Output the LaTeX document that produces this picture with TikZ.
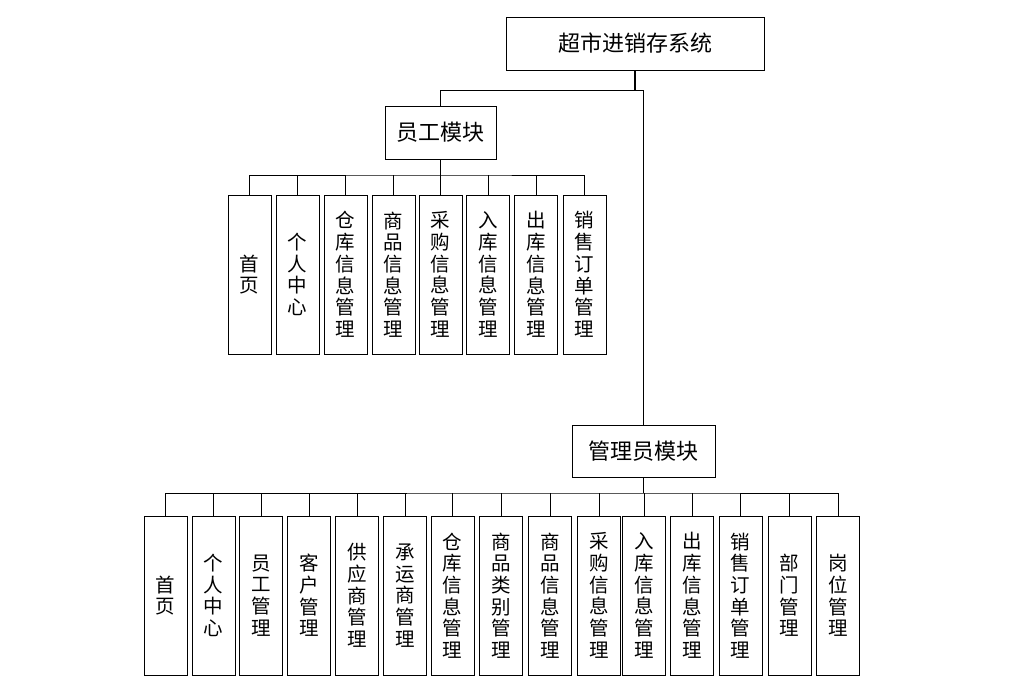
\documentclass[tikz,border=0pt]{standalone}
\usepackage{fontspec}
\newfontfamily\cjk{Noto Sans CJK SC}
\begin{document}
\begin{tikzpicture}[x=1pt,y=-1pt,
  box/.style={draw=black,line width=1pt,inner sep=0pt,font=\cjk\fontsize{22}{25}\selectfont},
  leaf/.style={draw=black,line width=1pt,inner sep=0pt,minimum width=43pt,minimum height=159pt,align=center,font=\cjk\fontsize{19.5}{21.7}\selectfont},
  wire/.style={line width=1pt},
  stem/.style={line width=1.8pt}]
\useasboundingbox (0,0) rectangle (1025,688);
% top
\node[box,minimum width=258pt,minimum height=53pt] (root) at (635,43.5) {超市进销存系统};
\node[box,minimum width=111pt,minimum height=53pt] (emp) at (440.5,132.5) {员工模块};
\node[box,minimum width=143pt,minimum height=52pt] (adm) at (643.5,451) {管理员模块};
\coordinate (j1) at (643.5,90);
\draw[stem] (root.south) -- (root.south |- j1);
\draw[wire] (emp.north) |- (j1) -- (adm.north);
% employee leaves
\foreach \i/\x/\t in {1/249.5/首\\页, 2/297.5/个\\人\\中\\心, 3/345.5/仓\\库\\信\\息\\管\\理, 4/393.5/商\\品\\信\\息\\管\\理, 5/440.5/采\\购\\信\\息\\管\\理, 6/488/入\\库\\信\\息\\管\\理, 7/536/出\\库\\信\\息\\管\\理, 8/584.5/销\\售\\订\\单\\管\\理}
  \node[leaf] (e\i) at (\x,274.5) {\t};
\coordinate (eb) at (440.5,175);
\draw[stem] (emp.south) -- (eb);
\draw[wire] (e1.north) |- (eb) -| (e8.north);
\foreach \i in {2,...,7} \draw[wire] (e\i.north) -- (e\i.north |- eb);
% admin leaves
\foreach \i/\x/\t in {1/165.5/首\\页, 2/213.5/个\\人\\中\\心, 3/261/员\\工\\管\\理, 4/309/客\\户\\管\\理, 5/357/供\\应\\商\\管\\理, 6/405/承\\运\\商\\管\\理, 7/452.5/仓\\库\\信\\息\\管\\理, 8/501/商\\品\\类\\别\\管\\理, 9/550/商\\品\\信\\息\\管\\理, 10/599/采\\购\\信\\息\\管\\理, 11/644/入\\库\\信\\息\\管\\理, 12/692/出\\库\\信\\息\\管\\理, 13/740.5/销\\售\\订\\单\\管\\理, 14/789.5/部\\门\\管\\理, 15/838/岗\\位\\管\\理}
  \node[leaf] (a\i) at (\x,595.5) {\t};
\coordinate (ab) at (643.5,493);
\draw[stem] (adm.south) -- (ab);
\draw[wire] (a1.north) |- (ab) -| (a15.north);
\foreach \i in {2,...,14} \draw[wire] (a\i.north) -- (a\i.north |- ab);
\end{tikzpicture}
\end{document}
